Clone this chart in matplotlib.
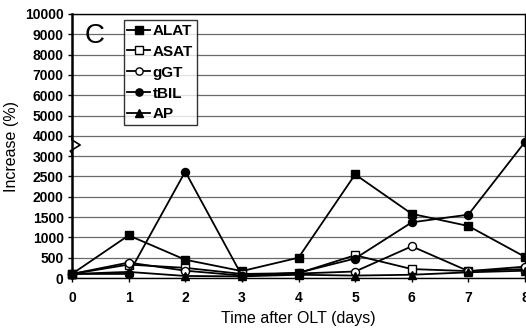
import numpy as np
import matplotlib
matplotlib.use("Agg")
import matplotlib.pyplot as plt
import matplotlib.transforms as mtransforms

plt.rcParams["font.family"] = ["Liberation Sans", "DejaVu Sans"]

# ---------------------------------------------------------------------------
# Data
# ---------------------------------------------------------------------------
days = [0, 1, 2, 3, 4, 5, 6, 7, 8]
alat = [100, 1050, 450, 170, 500, 2550, 1580, 1280, 520]
asat = [100, 330, 250, 100, 120, 560, 220, 170, 220]
ggt = [100, 380, 180, 60, 110, 160, 780, 170, 280]
tbil = [100, 100, 2620, 60, 130, 480, 1370, 1560, 3700]
ap = [100, 150, 50, 40, 80, 60, 80, 140, 180]

yticks = [0, 500, 1000, 1500, 2000, 2500, 3000, 4000, 5000, 6000,
          7000, 8000, 9000, 10000]

# broken y axis: 0-3000 in steps of 500, then 3000-10000 in steps of 1000
brk_val = [0, 3000, 4000, 10000]
brk_pos = [0, 6, 7, 13]


def fwd(y):
    return np.interp(y, brk_val, brk_pos)


def inv(p):
    return np.interp(p, brk_pos, brk_val)


# ---------------------------------------------------------------------------
# Plot
# ---------------------------------------------------------------------------
fig = plt.figure(figsize=(5.26, 3.33), dpi=100)
ax = fig.add_axes([72 / 526, 55 / 333, 453 / 526, 264 / 333])
ax.set_yscale("function", functions=(fwd, inv))

for yv in yticks:
    ax.axhline(yv, color="#6a6a6a", lw=0.9, zorder=1)

series = [
    ("ALAT", alat, dict(marker="s", mfc="black")),
    ("ASAT", asat, dict(marker="s", mfc="white")),
    ("gGT", ggt, dict(marker="o", mfc="white")),
    ("tBIL", tbil, dict(marker="o", mfc="black")),
    ("AP", ap, dict(marker="^", mfc="black")),
]
for name, vals, st in series:
    ax.plot(days, vals, color="black", lw=1.3, ms=5.8, mec="black",
            mew=1.0, label=name, zorder=3, clip_on=False, **st)

ax.set_xlim(0, 8)
ax.set_ylim(0, 10000)
ax.set_xticks(days)
ax.set_yticks(yticks)
ax.set_yticklabels([str(v) for v in yticks])
ax.yaxis.set_minor_locator(matplotlib.ticker.NullLocator())
ax.tick_params(axis="both", labelsize=10, length=3, width=1,
               direction="out", pad=3)
ax.tick_params(axis="x", pad=6)
for lab in ax.get_xticklabels() + ax.get_yticklabels():
    lab.set_fontweight("bold")
for sp in ax.spines.values():
    sp.set_linewidth(1.0)
ax.spines["left"].set_linewidth(1.8)

ax.set_xlabel("Time after OLT (days)", fontsize=11.5, labelpad=5)
ax.set_ylabel("Increase (%)", fontsize=11.5, labelpad=4)

# axis break zigzag on the y axis
tr = mtransforms.blended_transform_factory(ax.transAxes, ax.transData)
zx = [0, 0, 0.018, -0.004, 0.0, 0.0]
zy = [4000, 3800, 3550, 3250, 3150, 3000]
ax.plot(zx, zy, color="black", lw=1.2, transform=tr, clip_on=False, zorder=5)

ax.text(0.028, 0.965, "C", transform=ax.transAxes, fontsize=20,
        va="top", ha="left")

leg = ax.legend(loc="upper left", bbox_to_anchor=(0.114, 0.977),
                frameon=True, fancybox=False, edgecolor="black",
                fontsize=11, handlelength=1.5, handletextpad=0.15,
                borderpad=0.25, labelspacing=0.45, borderaxespad=0,
                markerscale=0.9)
leg.get_frame().set_linewidth(1.0)
for t in leg.get_texts():
    t.set_fontweight("bold")

fig.savefig("out.png", dpi=100)
